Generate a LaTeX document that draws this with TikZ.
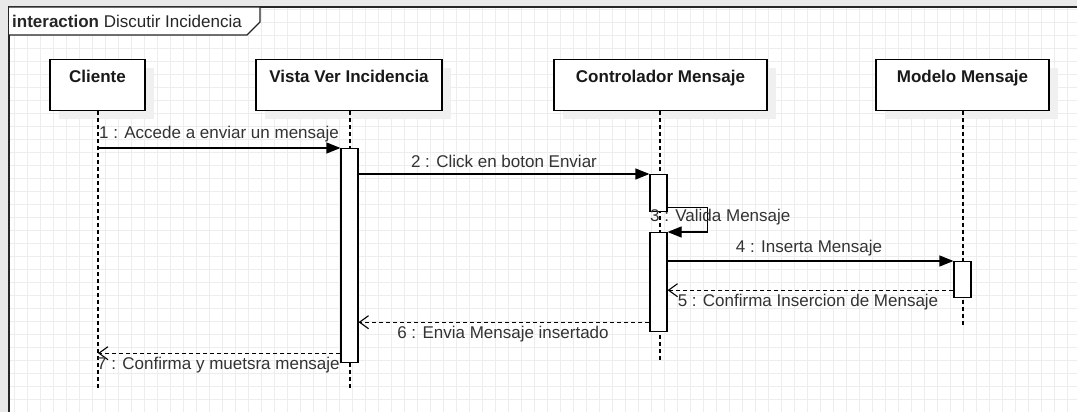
\documentclass[tikz,border=0pt]{standalone}
\usepackage{fontspec}
\setmainfont{Liberation Sans}
\usetikzlibrary{arrows.meta,calc}
\definecolor{txt}{HTML}{333333}
\definecolor{gridc}{HTML}{EDEDED}
\definecolor{outer}{HTML}{E9E9E9}
\definecolor{shad}{HTML}{F0F0F0}
\tikzset{
  fnt/.style={font=\fontsize{17}{19}\selectfont},
  actor/.style={draw=black, line width=1.2pt, fill=white, font=\fontsize{17}{19}\selectfont\bfseries,
    text=black!90, inner sep=0pt, text height=23pt, text depth=28pt},
  actshadow/.style={fill=shad, draw=none},
  lifeline/.style={draw=black, line width=1.1pt, dash pattern=on 4pt off 3pt},
  actbar/.style={draw=black, line width=1.2pt, fill=white, minimum width=17pt, inner sep=0pt},
  msg/.style={draw=black, line width=1.2pt, -{Triangle[length=14pt,width=11pt]}},
  ret/.style={draw=black, line width=1.1pt, dash pattern=on 4pt off 3pt, -{Straight Barb[length=9pt,width=13pt,line width=1.1pt]}},
  lbl/.style={fnt, text=txt, inner sep=0pt},
}
\begin{document}
\begin{tikzpicture}[x=1pt,y=-1pt]
\useasboundingbox (0,0) rectangle (1077,412);
% background
\fill[outer] (0,0) rectangle (1077,412);
\fill[white] (9,7) rectangle (1077,412);
\begin{scope}
  \clip (9,7) rectangle (1077,412);
  \foreach \i in {0,...,83} { \draw[gridc, line width=0.9pt] ({1.3+13*\i},7) -- ({1.3+13*\i},412); }
  \foreach \j in {0,...,31} { \draw[gridc, line width=0.9pt] (9,{9.3+13*\j}) -- (1077,{9.3+13*\j}); }
\end{scope}
% frame
\draw[black!85, line width=1.3pt] (1077,7) -- (9,7) -- (9,412);
\draw[black!85, line width=1.1pt, fill=white] (9,7) -- (260,7) -- (260,22) -- (247,35) -- (9,35);
\node[lbl, anchor=west, text=black!85] (title) at (12,21) {\textbf{interaction} Discutir Incidencia};
% shadows
\fill[actshadow] (59,68) rectangle (154,119);
\fill[actshadow] (265,68) rectangle (451,119);
\fill[actshadow] (563,68) rectangle (776,119);
\fill[actshadow] (885,68) rectangle (1058,119);
% actors
\node[actor, minimum width=95pt, anchor=north] (cliente) at (97.5,59) {Cliente};
\node[actor, minimum width=186pt, anchor=north] (vista) at (349,59) {Vista Ver Incidencia};
\node[actor, minimum width=213pt, anchor=north] (ctrl) at (660.5,59) {Controlador Mensaje};
\node[actor, minimum width=173pt, anchor=north] (modelo) at (962.5,59) {Modelo Mensaje};
% lifeline ends
\coordinate (clEnd) at (98,390);
\coordinate (viEnd) at (350,390);
\coordinate (ctEnd) at (660,360);
\coordinate (moEnd) at (963,327);
\draw[lifeline] (cliente.south -| clEnd) -- (clEnd);
\draw[lifeline] (vista.south -| viEnd) -- (viEnd);
\draw[lifeline] (ctrl.south -| ctEnd) -- (ctEnd);
\draw[lifeline] (modelo.south -| moEnd) -- (moEnd);
% activation bars
\node[actbar, minimum height=214pt, anchor=north] (vbar) at (349.5,148) {};
\node[actbar, minimum height=37pt, anchor=north] (cbar1) at (658.5,174) {};
\node[actbar, minimum height=99pt, anchor=north] (cbar2) at (658.5,232) {};
\node[actbar, minimum height=36pt, anchor=north] (mbar) at (962.5,261) {};
% return message start points
\coordinate (r5) at ([yshift=8pt]mbar.south west);
\coordinate (r6) at ([yshift=10pt]cbar2.south west);
\coordinate (r7) at ([yshift=10pt]vbar.south west);
\coordinate (s3) at ([yshift=5pt]cbar1.south east);
% messages
\draw[msg] (clEnd |- vbar.north west) -- (vbar.north west);
\draw[msg] (vbar.east |- cbar1.north) -- (cbar1.north west);
\draw[msg] (s3) -- ++(40,0) |- (cbar2.north east);
\draw[msg] (cbar2.east |- mbar.north) -- (mbar.north west);
\draw[ret] (r5) -- (cbar2.east |- r5);
\draw[ret] (r6) -- (vbar.east |- r6);
\draw[ret] (r7) -- (clEnd |- r7);
% labels
\node[lbl, anchor=west] (l1) at (99,134) {1 : Accede a enviar un mensaje};
\node[lbl] (l2) at (504,161) {2 : Click en boton Enviar};
\node[lbl, anchor=west] (l3) at (650,217) {3 : Valida Mensaje};
\node[lbl] (l4) at (809,248) {4 : Inserta Mensaje};
\node[lbl] (l5) at (808,302) {5 : Confirma Insercion de Mensaje};
\node[lbl] (l6) at (503,334) {6 : Envia Mensaje insertado};
\node[lbl, anchor=west] (l7) at (97,365) {7 : Confirma y muetsra mensaje};
\end{tikzpicture}
\end{document}
